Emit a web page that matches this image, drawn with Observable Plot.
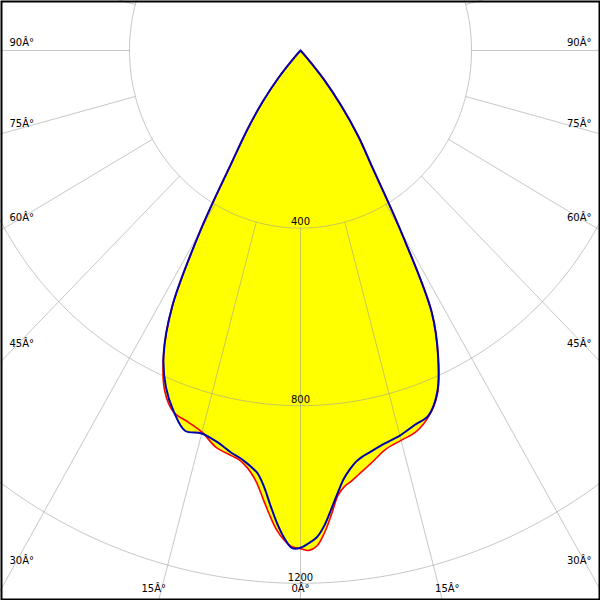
<!DOCTYPE html>
<html><head><meta charset="utf-8">
<script src="https://cdn.jsdelivr.net/npm/d3@7"></script>
<script src="https://cdn.jsdelivr.net/npm/@observablehq/plot@0.6"></script>
<style>body{margin:0;background:#fff}</style>
</head><body><div id="chart"></div>
<script>
// Gamma angles (degrees from nadir)
const angles = [0,1,2,3,4,5,6,7,8,9,10,12.5,15,17.5,20,22.5,25,27.5,30,32.5,35,37.5,40,42.5,45,90];
// Luminous intensity (cd) – red plane, right half (C0) and left half (C180)
const c0   = [1122,1126,1116,1086,1046,1006,987,977,966,955,945,920,909,900,877,837,762,665,468,313,235,155,85,20,0,0];
const c180 = [1122,1118,1103,1080,1047,1012,979,957,942,932,927,915,890,877,867,830,758,650,468,302,215,145,80,20,0,0];
// Blue plane, right half (C90) and left half (C270)
const c90  = [1120,1110,1097,1071,1035,1000,970,950,935,926,920,907,898,885,875,835,762,665,468,315,235,155,85,20,0,0];
const c270 = [1120,1121,1098,1064,1024,985,958,945,935,927,921,903,893,898,866,822,758,650,468,300,215,145,80,20,0,0];
// Grid
const rings = [400, 800, 1200, 1600];
const ringLabels = ["400", "800", "1200"];
const spokeStep = 15;
const sideLabelAngles = [90, 75, 60, 45, 30];
const bottomLabelAngles = [15, 0];
const degSuffix = "Â°";

const W = 600, H = 600, CX = 300, CY = 50, SX = 0.4275, SY = 0.444;
const rad = d => d * Math.PI / 180;
const pt = (g, I, side) => ({x: side * I * Math.sin(rad(g)), y: I * Math.cos(rad(g))});

function outline(left, right) {
  const pts = [];
  for (let i = angles.length - 1; i >= 0; i--) pts.push(pt(angles[i], left[i], -1));
  for (let i = 1; i < angles.length; i++) pts.push(pt(angles[i], right[i], 1));
  return pts.filter((p, i) => i === 0 || Math.hypot(p.x - pts[i-1].x, p.y - pts[i-1].y) > 1e-6);
}
const red = outline(c180, c0);
const blue = outline(c270, c90);

const ringPts = rings.flatMap(r => d3.range(0, 361, 1).map(a => ({r, x: r * Math.sin(rad(a)), y: r * Math.cos(rad(a))})));
const spokes = d3.range(-180, 180, spokeStep).map(a => ({
  x1: 400 * Math.sin(rad(a)), y1: 400 * Math.cos(rad(a)),
  x2: 3000 * Math.sin(rad(a)), y2: 3000 * Math.cos(rad(a))
}));

// label positions derived from the spoke angles
const toX = px => (px - CX) / SX, toY = py => (py - CY) / SY;
const sideLabels = sideLabelAngles.flatMap(g => {
  const Xd = 279 / SX;
  const Yd = Xd / Math.tan(rad(g));
  const py = CY + Yd * SY + (8 - (g - 30) * 0.267);
  return [
    {x: toX(9), y: toY(py), text: g + degSuffix, anchor: "start"},
    {x: toX(591), y: toY(py), text: g + degSuffix, anchor: "end"}
  ];
});
const bottomLabels = bottomLabelAngles.flatMap(g => {
  const py = 588;
  const Yd = toY(py);
  const dxp = Yd * Math.tan(rad(g)) * SX + (g ? 8 : 0);
  return g ? [{x: toX(CX - dxp), y: Yd, text: g + degSuffix}, {x: toX(CX + dxp), y: Yd, text: g + degSuffix}]
           : [{x: 0, y: Yd, text: g + degSuffix}];
});

const font = {fontFamily: "DejaVu Sans, Verdana, sans-serif", fontSize: 10, fill: "black"};

const chart = Plot.plot({
  width: W, height: H,
  margin: 0,
  x: {domain: [toX(0), toX(W)], range: [0, W], axis: null},
  y: {domain: [toY(0), toY(H)], range: [0, H], axis: null},
  style: {background: "white"},
  marks: [
    Plot.line(blue, {x: "x", y: "y", fill: "#ffff00", stroke: "none", curve: "catmull-rom"}),
    Plot.line(red, {x: "x", y: "y", fill: "#ffff00", stroke: "none", curve: "catmull-rom"}),
    Plot.line(ringPts, {x: "x", y: "y", z: "r", stroke: "#999", strokeOpacity: 0.55, strokeWidth: 1, clip: true}),
    Plot.link(spokes, {x1: "x1", y1: "y1", x2: "x2", y2: "y2", stroke: "#999", strokeOpacity: 0.55, strokeWidth: 1, clip: true}),
    Plot.line(red, {x: "x", y: "y", stroke: "#ff0000", strokeWidth: 1.6, curve: "catmull-rom"}),
    Plot.line(blue, {x: "x", y: "y", stroke: "#0000b0", strokeWidth: 2, curve: "catmull-rom"}),
    Plot.text(ringLabels, {x: () => 0, y: d => +d, text: d => d, dy: -6, ...font}),
    Plot.text(sideLabels.filter(d => d.anchor === "start"), {x: "x", y: "y", text: "text", textAnchor: "start", ...font}),
    Plot.text(sideLabels.filter(d => d.anchor === "end"), {x: "x", y: "y", text: "text", textAnchor: "end", ...font}),
    Plot.text(bottomLabels, {x: "x", y: "y", text: "text", ...font}),
    Plot.frame({stroke: "black", strokeWidth: 2, inset: 1})
  ]
});
document.getElementById("chart").appendChild(chart);
</script>
</body></html>
